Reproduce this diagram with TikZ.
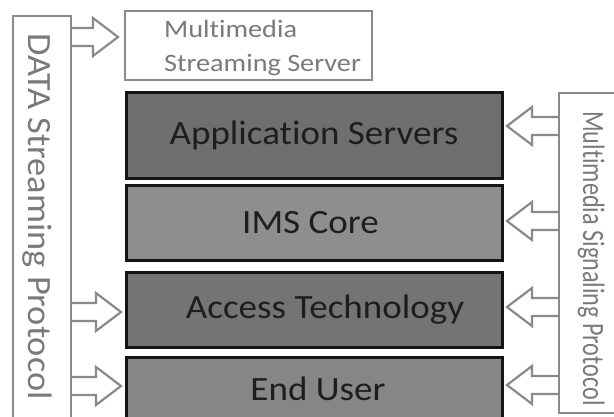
\documentclass[tikz,border=0pt]{standalone}
\usepackage{fontspec}
\setmainfont[Ligatures={NoCommon}]{Carlito}
\usetikzlibrary{calc,backgrounds}
\definecolor{gline}{HTML}{8A8A8A}
\definecolor{gtext}{HTML}{7A7A7A}
\definecolor{ftxt}{HTML}{1E1E1E}
\definecolor{fas}{HTML}{6F6F6F}
\definecolor{fims}{HTML}{8E8E8E}
\definecolor{facc}{HTML}{747474}
\definecolor{feu}{HTML}{868686}
\newcommand\widetxt[1]{\scalebox{1.09}[1]{#1}}
\tikzset{
  layerbox/.style={draw=black!92, line width=3pt, text=ftxt, inner sep=0pt,
    minimum width=376pt, font=\fontsize{34}{40}\selectfont},
  outlinebox/.style={draw=gline, line width=2.4pt, fill=white, inner sep=0pt},
  sidetext/.style={text=gtext, inner sep=0pt, rotate=-90, anchor=base},
  mmtext/.style={text=gtext, inner sep=0pt, anchor=base west, font=\fontsize{25}{28}\selectfont},
  barr/.style={draw=gline, line width=2.2pt, fill=white, line join=miter},
}
\newcommand\blockarrow[2]{%
  \draw[barr] let \p1=(#1), \p2=(#2), \n1={sign(\x2-\x1)} in
    (\x1,{\y1+9pt}) -- ({\x2-\n1*25pt},{\y1+9pt}) -- ({\x2-\n1*25pt},{\y1+19pt})
    -- (\x2,\y1) -- ({\x2-\n1*25pt},{\y1-19pt}) -- ({\x2-\n1*25pt},{\y1-9pt})
    -- (\x1,{\y1-9pt});}
\begin{document}
\begin{tikzpicture}[x=1pt,y=-1pt]
\useasboundingbox (0,0) rectangle (614,416);
\clip (0,0) rectangle (614,416);
% side boxes
\node[outlinebox, minimum width=58pt, minimum height=420pt] (lbox) at (42,226) {};
\node[sidetext, font=\fontsize{34}{40}\selectfont] (ltext) at (28,216.5) {\scalebox{1.07}[1]{DATA Streaming Protocol}};
\node[outlinebox, minimum width=81pt, minimum height=320pt] (rbox) at (599.5,253) {};
\node[sidetext, font=\fontsize{31}{36}\selectfont] (rtext) at (583,258.5) {\scalebox{0.78}[1]{Multimedia Signaling Protocol}};
% top box
\node[outlinebox, minimum width=247pt, minimum height=69pt] (mss) at (248.5,45.5) {};
\node[mmtext] (mss1) at (164,37.5) {\scalebox{1.13}[1]{Multimedia}};
\node[mmtext] (mss2) at (164,71) {\scalebox{1.13}[1]{Streaming Server}};
% layers
\node[layerbox, fill=fas, minimum height=86pt] (as) at (314,135) {\widetxt{Application Servers}};
\node[layerbox, fill=fims, minimum height=75pt] (ims) at (314,222.5) {\widetxt{IMS Core}\hspace*{7pt}};
\node[layerbox, fill=facc, minimum height=75pt] (acc) at (314,309.5) {\hspace*{22pt}\widetxt{Access Technology}};
\node[layerbox, fill=feu, minimum height=63pt] (eu) at (314,388.5) {\hspace*{8pt}\widetxt{End User}};
% arrow end points
\coordinate (a1s) at (71,37);  \coordinate (a1e) at (118,37);
\coordinate (a2s) at (71,312); \coordinate (a2e) at (121,312);
\coordinate (a3s) at (71,386); \coordinate (a3e) at (121,386);
\coordinate (b1s) at (559,126); \coordinate (b1e) at (507,126);
\coordinate (b2s) at (559,221); \coordinate (b2e) at (507,221);
\coordinate (b3s) at (559,307); \coordinate (b3e) at (507,307);
\coordinate (b4s) at (559,385); \coordinate (b4e) at (507,385);
\begin{scope}[on background layer]
\blockarrow{a1s}{a1e}
\blockarrow{a2s}{a2e}
\blockarrow{a3s}{a3e}
\blockarrow{b1s}{b1e}
\blockarrow{b2s}{b2e}
\blockarrow{b3s}{b3e}
\blockarrow{b4s}{b4e}
\end{scope}
\end{tikzpicture}
\end{document}
